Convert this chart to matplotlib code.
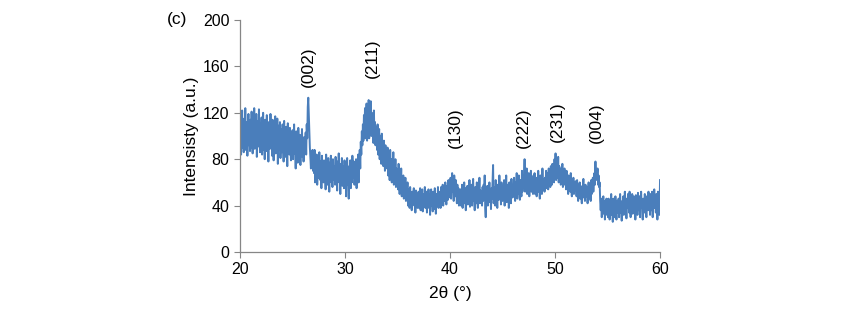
import numpy as np
import matplotlib.pyplot as plt

plt.rcParams['font.family'] = ['Liberation Sans', 'DejaVu Sans']

# 2-theta grid, 0.05 deg steps from 20 to 60
two_theta_start = 20.0
two_theta_step = 0.05

# intensity, one row per degree (20.00 .. 59.95), plus the last point at 60
rows = [
    [98, 118, 84, 108, 122, 90, 104, 86, 115, 95, 124, 88, 101, 112, 83, 106, 119, 92, 110, 87],   # 20
    [114, 90, 121, 96, 85, 117, 100, 124, 89, 108, 93, 119, 82, 105, 113, 91, 123, 97, 86, 111],   # 21
    [94, 116, 84, 103, 120, 88, 109, 80, 114, 99, 87, 118, 92, 106, 78, 112, 101, 89, 119, 95],    # 22
    [108, 83, 114, 96, 79, 111, 90, 117, 85, 102, 93, 115, 76, 104, 109, 88, 112, 81, 99, 106],    # 23
    [86, 110, 95, 78, 113, 89, 104, 82, 108, 97, 74, 111, 91, 100, 84, 107, 93, 79, 103, 96],      # 24
    [105, 80, 98, 110, 85, 94, 72, 104, 88, 99, 77, 107, 92, 83, 101, 75, 96, 89, 106, 82],        # 25
    [94, 78, 99, 86, 92, 103, 84, 110, 98, 125, 133, 118, 104, 90, 80, 72, 85, 76, 88, 70],        # 26
    [82, 68, 88, 60, 76, 70, 84, 58, 73, 80, 64, 86, 71, 62, 78, 55, 83, 67, 74, 60],              # 27
    [79, 63, 72, 54, 84, 66, 75, 58, 81, 70, 52, 77, 65, 83, 60, 73, 56, 80, 68, 62],              # 28
    [74, 58, 82, 64, 70, 53, 78, 66, 85, 60, 72, 50, 76, 63, 81, 57, 69, 74, 55, 79],              # 29
    [62, 77, 48, 70, 81, 58, 66, 46, 74, 63, 79, 55, 68, 60, 83, 70, 64, 78, 58, 72],              # 30
    [62, 80, 55, 74, 68, 84, 60, 78, 88, 72, 95, 84, 104, 92, 110, 96, 118, 100, 124, 98],         # 31
    [112, 128, 96, 122, 106, 131, 98, 126, 110, 130, 100, 120, 104, 116, 94, 122, 100, 112, 92, 108],  # 32
    [104, 88, 110, 84, 98, 106, 80, 100, 90, 76, 102, 82, 94, 74, 96, 86, 70, 92, 78, 88],         # 33
    [72, 90, 66, 84, 76, 62, 88, 70, 80, 60, 78, 68, 86, 58, 74, 64, 80, 56, 72, 62],              # 34
    [70, 54, 76, 60, 50, 68, 56, 72, 48, 62, 54, 66, 46, 58, 52, 64, 44, 56, 50, 60],              # 35
    [40, 54, 46, 38, 56, 44, 50, 36, 52, 42, 48, 55, 40, 46, 34, 53, 44, 50, 38, 48],              # 36
    [52, 38, 46, 55, 36, 48, 42, 54, 35, 50, 44, 40, 56, 38, 47, 52, 34, 49, 43, 54],              # 37
    [38, 50, 32, 46, 54, 40, 48, 35, 52, 42, 37, 55, 44, 33, 50, 46, 40, 56, 38, 48],              # 38
    [44, 52, 38, 56, 46, 42, 58, 40, 50, 54, 44, 60, 48, 41, 57, 50, 45, 62, 47, 55],              # 39
    [50, 64, 46, 58, 68, 52, 60, 44, 66, 54, 48, 62, 56, 42, 58, 50, 55, 40, 52, 46],              # 40
    [54, 40, 50, 58, 38, 52, 46, 60, 42, 55, 36, 50, 47, 57, 41, 53, 44, 62, 39, 51],              # 41
    [46, 58, 40, 52, 63, 44, 50, 36, 56, 48, 42, 60, 45, 38, 55, 49, 64, 42, 53, 47],              # 42
    [50, 40, 56, 44, 58, 48, 66, 38, 30, 52, 46, 57, 40, 54, 48, 60, 43, 51, 37, 55],              # 43
    [46, 60, 75, 42, 50, 56, 40, 62, 48, 54, 38, 58, 52, 45, 66, 47, 55, 41, 60, 50],              # 44
    [44, 57, 48, 62, 40, 54, 50, 66, 43, 58, 46, 52, 38, 60, 49, 55, 42, 63, 51, 47],              # 45
    [56, 48, 64, 52, 44, 60, 55, 68, 46, 58, 50, 66, 53, 45, 62, 56, 48, 70, 52, 60],              # 46
    [58, 64, 80, 52, 66, 56, 72, 50, 62, 58, 68, 48, 60, 55, 70, 52, 64, 57, 50, 66],              # 47
    [54, 68, 50, 60, 64, 48, 62, 56, 70, 52, 58, 46, 66, 55, 61, 50, 72, 54, 59, 63],              # 48
    [52, 64, 58, 70, 55, 62, 68, 54, 72, 60, 66, 56, 74, 62, 58, 76, 64, 70, 60, 80],              # 49
    [68, 85, 62, 78, 70, 64, 82, 60, 74, 66, 72, 58, 70, 64, 76, 56, 68, 62, 72, 58],              # 50
    [64, 54, 70, 58, 62, 50, 66, 56, 60, 52, 68, 55, 48, 62, 57, 64, 50, 59, 54, 61],              # 51
    [56, 48, 62, 52, 44, 58, 54, 60, 46, 55, 50, 42, 57, 52, 63, 47, 54, 44, 58, 50],              # 52
    [48, 56, 42, 54, 60, 46, 52, 58, 44, 62, 50, 56, 64, 52, 60, 68, 58, 78, 62, 70],              # 53
    [64, 72, 58, 66, 56, 60, 44, 36, 46, 30, 42, 38, 48, 33, 44, 28, 40, 36, 46, 32],              # 54
    [42, 30, 46, 36, 28, 44, 38, 50, 32, 40, 26, 46, 35, 42, 30, 48, 37, 28, 44, 34],              # 55
    [36, 46, 30, 42, 50, 34, 40, 27, 44, 38, 48, 32, 41, 52, 35, 43, 29, 46, 38, 50],              # 56
    [44, 34, 52, 38, 30, 46, 40, 50, 33, 42, 48, 36, 44, 28, 49, 39, 45, 32, 51, 40],              # 57
    [36, 48, 30, 44, 52, 38, 42, 28, 46, 40, 34, 50, 37, 44, 30, 48, 42, 36, 52, 38],              # 58
    [44, 32, 50, 40, 36, 52, 30, 46, 42, 54, 38, 48, 34, 50, 44, 28, 52, 40, 46, 32],              # 59
]
last_point = [62]  # 60.0

# peak labels: (text, 2theta, intensity at text bottom)
peak_labels = ["(002)", "(211)", "(130)", "(222)", "(231)", "(004)"]
peak_pos = [26.5, 32.6, 40.5, 47.0, 50.2, 53.9]
peak_text_y = [142, 150, 90, 90, 95, 94]

intensity = np.array([v for r in rows for v in r] + last_point, dtype=float)
two_theta = two_theta_start + two_theta_step * np.arange(len(intensity))

fig = plt.figure(figsize=(8.5, 3.15), dpi=100)
ax = fig.add_axes([0.2824, 0.2, 0.4941, 0.7365])

ax.plot(two_theta, intensity, color='#4A7EBB', lw=1.4)

ax.set_xlim(20, 60)
ax.set_ylim(0, 200)
ax.set_xticks([20, 30, 40, 50, 60])
ax.set_yticks([0, 40, 80, 120, 160, 200])

for s in ['top', 'right']:
    ax.spines[s].set_visible(False)
for s in ['left', 'bottom']:
    ax.spines[s].set_color('#868686')
    ax.spines[s].set_linewidth(0.9)
ax.tick_params(direction='out', length=4, color='#868686', labelsize=11.5, labelcolor='black')

ax.set_xlabel("2θ (°)", fontsize=12.5, labelpad=6)
ax.set_ylabel("Intensisty (a.u.)", fontsize=12.5, labelpad=3)

for lab, x, y in zip(peak_labels, peak_pos, peak_text_y):
    ax.text(x, y, lab, rotation=90, ha='center', va='bottom', fontsize=12.5)

fig.text(0.196, 0.937, "(c)", fontsize=12.5, ha='left', va='center')

fig.savefig("out.png", dpi=100)
